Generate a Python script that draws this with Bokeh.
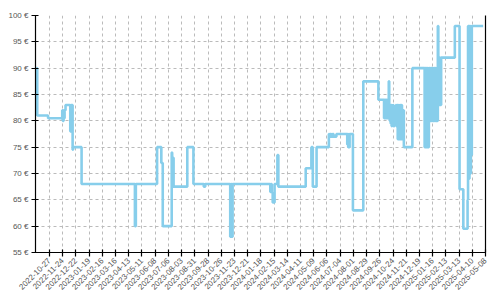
import pandas as pd
from bokeh.plotting import figure
from bokeh.models import (ColumnDataSource, Range1d, FixedTicker, DatetimeTickFormatter,
                          PrintfTickFormatter, LinearAxis)
from bokeh.embed import file_html
from bokeh.resources import INLINE
from math import pi

# ---- data ----
dates = [
    "2022-09-29", "2022-10-01", "2022-10-24", "2022-11-23", "2022-11-24", "2022-11-26",
    "2022-11-27", "2022-11-28", "2022-11-30", "2022-12-10", "2022-12-12", "2022-12-15",
    "2022-12-16", "2023-01-03", "2023-04-26", "2023-04-28", "2023-06-12", "2023-06-21",
    "2023-06-24", "2023-07-13", "2023-07-14", "2023-07-15", "2023-07-17", "2023-08-15",
    "2023-08-28", "2023-09-19", "2023-09-22", "2023-11-14", "2023-11-16", "2023-11-17",
    "2023-11-19", "2024-02-07", "2024-02-09", "2024-02-10", "2024-02-12", "2024-02-16",
    "2024-02-22", "2024-02-24", "2024-04-22", "2024-05-04", "2024-05-05", "2024-05-06",
    "2024-05-07", "2024-05-15", "2024-06-10", "2024-06-11", "2024-06-13", "2024-06-15",
    "2024-06-18", "2024-06-20", "2024-06-26", "2024-07-19", "2024-07-20", "2024-07-21",
    "2024-07-24", "2024-07-31", "2024-08-22", "2024-09-23",
    "2024-10-05", "2024-10-06", "2024-10-07", "2024-10-08", "2024-10-09", "2024-10-10",
    "2024-10-11", "2024-10-12", "2024-10-13", "2024-10-15", "2024-10-16", "2024-10-17",
    "2024-10-18", "2024-10-19", "2024-10-20", "2024-10-21", "2024-10-22", "2024-10-23",
    "2024-10-24", "2024-10-25", "2024-10-27", "2024-10-28", "2024-10-30", "2024-10-31",
    "2024-11-02", "2024-11-03", "2024-11-05", "2024-11-06", "2024-11-08", "2024-11-09",
    "2024-11-11", "2024-11-12", "2024-11-14", "2024-11-16",
    "2024-12-04", "2024-12-30", "2024-12-31", "2025-01-01", "2025-01-02", "2025-01-03",
    "2025-01-05", "2025-01-06", "2025-01-08", "2025-01-09", "2025-01-10", "2025-01-11",
    "2025-01-13", "2025-01-14", "2025-01-16", "2025-01-17", "2025-01-19", "2025-01-20",
    "2025-01-22", "2025-01-23", "2025-01-25", "2025-01-26", "2025-01-27", "2025-01-28",
    "2025-01-29", "2025-01-30", "2025-01-31", "2025-02-01", "2025-02-03",
    "2025-03-04", "2025-03-14", "2025-03-22", "2025-03-31", "2025-04-01", "2025-04-03",
    "2025-04-04", "2025-04-06", "2025-04-07", "2025-04-09", "2025-05-03",
]
prices = [
    90, 81, 80.5, 82, 80, 82,
    80.5, 82, 83, 78, 83, 74.5,
    75, 68, 60, 68, 75, 72,
    60, 74, 68, 73, 67.5, 75,
    68, 67.5, 68, 58, 68, 58,
    68, 66.5, 68, 66.5, 64.5, 68,
    73.5, 67.5, 71, 75, 71, 75,
    67.5, 75, 77.5, 77, 77.5, 77,
    77.5, 77, 77.5, 75.5, 77.5, 75,
    77.5, 63, 87.5, 84,
    80.5, 84, 80.5, 84, 80.5, 84,
    80.5, 84, 80.5, 87.5, 82.5, 80,
    83, 79.5, 83, 79, 82.5, 80,
    83, 79, 82.5, 79.5, 83, 79,
    83, 76.5, 83, 76.5, 83, 76.5,
    83, 76.5, 82, 75,
    90, 75, 90, 75, 90, 75,
    90, 75, 90, 80, 90, 80,
    90, 80, 90, 80, 90, 80,
    90, 80, 90, 80, 98, 83,
    92, 83, 92, 83, 92,
    98, 67, 59.5, 65, 98, 69,
    98, 70, 73.5, 98, 98,
]
tick_dates = [
    "2022-10-27", "2022-11-24", "2022-12-22", "2023-01-19", "2023-02-16", "2023-03-16",
    "2023-04-13", "2023-05-11", "2023-06-08", "2023-07-06", "2023-08-03", "2023-08-31",
    "2023-09-28", "2023-10-26", "2023-11-23", "2023-12-21", "2024-01-18", "2024-02-15",
    "2024-03-14", "2024-04-11", "2024-05-09", "2024-06-06", "2024-07-04", "2024-08-01",
    "2024-08-29", "2024-09-26", "2024-10-24", "2024-11-21", "2024-12-19", "2025-01-16",
    "2025-02-13", "2025-03-13", "2025-04-10", "2025-05-08",
]
y_ticks = [55, 60, 65, 70, 75, 80, 85, 90, 95, 100]
x_start, x_end = "2022-09-27 08:00", "2025-05-08"

# ---- figure ----
def ms(s):
    return pd.Timestamp(s).value / 1e6

src = ColumnDataSource(dict(date=pd.to_datetime(dates), price=prices))

p = figure(width=500, height=300, x_axis_type="datetime", output_backend="svg",
           toolbar_location=None,
           x_range=Range1d(ms(x_start), ms(x_end)), y_range=Range1d(55, 100),
           min_border_left=35, min_border_right=15, min_border_top=15, min_border_bottom=48)
p.outline_line_color = None
p.background_fill_color = "white"
p.border_fill_color = "white"

p.step(x="date", y="price", source=src, mode="after", line_color="#87CEEB", line_width=2.6)

xt = FixedTicker(ticks=[ms(d) for d in tick_dates])
yt = FixedTicker(ticks=y_ticks)
fmt = "%Y-%m-%d"
p.xaxis.ticker = xt
p.xaxis.formatter = DatetimeTickFormatter(milliseconds=fmt, seconds=fmt, minsec=fmt, minutes=fmt,
                                          hourmin=fmt, hours=fmt, days=fmt, months=fmt, years=fmt)
p.xaxis.major_label_orientation = pi / 4
p.yaxis.ticker = yt
p.yaxis.formatter = PrintfTickFormatter(format="%d €")

for ax in (p.xaxis, p.yaxis):
    ax.axis_line_color = "black"
    ax.axis_line_width = 1.2
    ax.major_tick_line_color = "black"
    ax.major_tick_line_width = 1.2
    ax.major_tick_in = 3
    ax.major_tick_out = 4
    ax.minor_tick_line_color = None
    ax.major_label_text_font = "Liberation Sans"
    ax.major_label_text_font_size = "8px"
    ax.major_label_text_color = "#555555"
    ax.major_label_standoff = 3

right = LinearAxis(ticker=FixedTicker(ticks=[]), axis_line_color="black", axis_line_width=1.2,
                   major_label_text_font_size="0px", major_tick_line_color=None,
                   minor_tick_line_color=None)
p.add_layout(right, "right")

p.xgrid.ticker = xt
p.ygrid.ticker = yt
for g in (p.xgrid, p.ygrid):
    g.grid_line_color = "#bbbbbb"
    g.grid_line_dash = "3 3"
    g.grid_line_width = 1

open("out.html", "w").write(file_html(p, INLINE))
